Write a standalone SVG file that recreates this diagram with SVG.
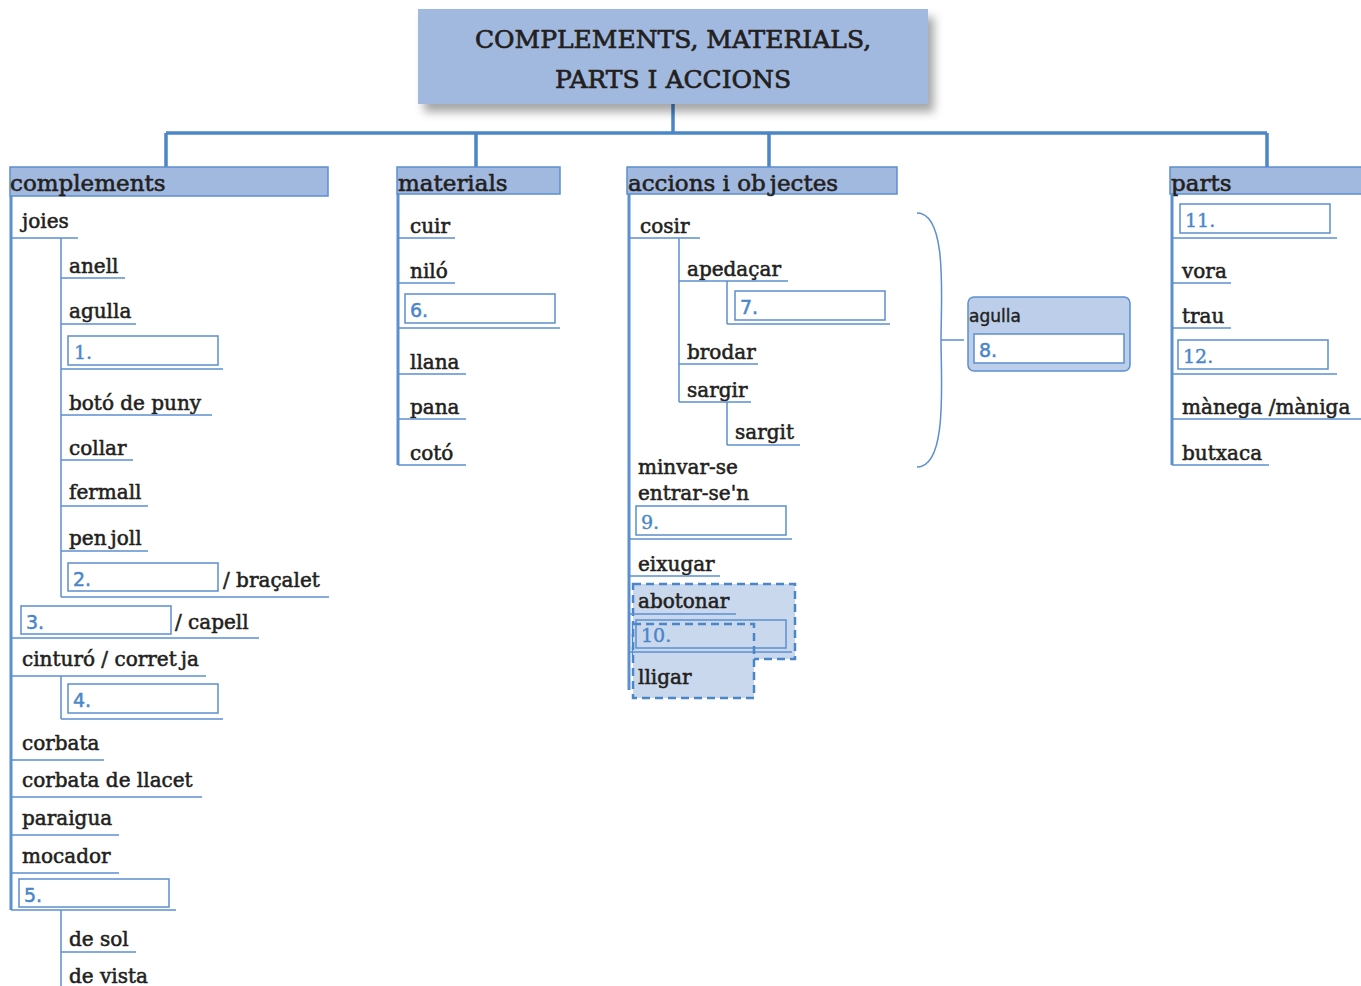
<svg xmlns="http://www.w3.org/2000/svg" width="1361" height="986" viewBox="0 0 1361 986">
<defs>
<filter id="sh" x="-10%" y="-20%" width="130%" height="160%">
<feDropShadow dx="6" dy="8" stdDeviation="5" flood-color="#000" flood-opacity="0.35"/>
</filter>
</defs>
<style>
.hd{fill:#a2b9df;stroke:#5b8fcf;stroke-width:1.5}
.ht{font-family:"DejaVu Serif",serif;font-size:23px;fill:#231f20;stroke:#231f20;stroke-width:0.6}
.t{font-family:"DejaVu Serif",serif;font-size:20px;fill:#231f20;stroke:#231f20;stroke-width:0.55}
.n{font-family:"DejaVu Sans",sans-serif;font-size:19px;fill:#4a86c8;stroke:#4a86c8;stroke-width:0.5}
.ns{font-family:"DejaVu Serif",serif;font-size:19px;fill:#4a86c8;stroke:#4a86c8;stroke-width:0.4}
.bx{fill:#fff;stroke:#5b8fcf;stroke-width:1.5}
.ln{stroke:#5b8fcf;stroke-width:1.5;fill:none}
.vl{stroke:#5b8fcf;stroke-width:3;fill:none}
.tr{stroke:#4a86c8;stroke-width:3.5;fill:none}
.dsh{fill:#cad8ed;stroke:#4a86c8;stroke-width:2.5;stroke-dasharray:8 5}
</style>
<g id="connectors">
<path class="tr" d="M673 100V133M166 133H1267M166 133V168M476 133V168M769 133V168M1267 133V168"/>
<path class="ln" d="M917 213C948 213 941 300 941 340C941 380 948 467 917 467M941 340H964"/>
</g>
<g id="title">
<rect x="418" y="9" width="510" height="95" fill="#a2b9df" filter="url(#sh)"/>
<text x="673" y="48" text-anchor="middle" font-family="DejaVu Serif,serif" font-size="25" fill="#231f20" stroke="#231f20" stroke-width="0.7">COMPLEMENTS, MATERIALS,</text>
<text x="673" y="88" text-anchor="middle" font-family="DejaVu Serif,serif" font-size="25" fill="#231f20" stroke="#231f20" stroke-width="0.7">PARTS I ACCIONS</text>
</g>
<g id="complements">
<rect class="hd" x="10" y="167" width="318" height="29"/>
<text class="ht" x="10" y="191">complements</text>
<path class="vl" d="M11 196V910"/>
<path class="ln" d="M61 238V597M61 676V719M61 910V986"/>
<text class="t" x="22" y="228">joies</text><path class="ln" d="M11 238H78"/>
<text class="t" x="69" y="273">anell</text><path class="ln" d="M61 278H125"/>
<text class="t" x="69" y="318">agulla</text><path class="ln" d="M61 324H136"/>
<rect class="bx" x="68" y="336" width="150" height="29"/><text class="ns" x="74" y="359">1.</text><path class="ln" d="M61 369H223"/>
<text class="t" x="69" y="410">botó de puny</text><path class="ln" d="M61 415H212"/>
<text class="t" x="69" y="455">collar</text><path class="ln" d="M61 460H133"/>
<text class="t" x="69" y="499">fermall</text><path class="ln" d="M61 506H148"/>
<text class="t" x="69" y="545">pen<tspan dx="4">joll</tspan></text><path class="ln" d="M61 551H148"/>
<rect class="bx" x="68" y="563" width="150" height="28"/><text class="n" x="73" y="586">2.</text>
<text class="t" x="223" y="587">/ braçalet</text><path class="ln" d="M61 597H329"/>
<rect class="bx" x="21" y="606" width="150" height="28"/><text class="n" x="26" y="629">3.</text>
<text class="t" x="175" y="629">/ capell</text><path class="ln" d="M11 638H259"/>
<text class="t" x="22" y="666">cinturó / corret<tspan dx="4">ja</tspan></text><path class="ln" d="M11 676H206"/>
<rect class="bx" x="68" y="684" width="150" height="29"/><text class="n" x="73" y="707">4.</text><path class="ln" d="M61 719H223"/>
<text class="t" x="22" y="750">corbata</text><path class="ln" d="M11 760H104"/>
<text class="t" x="22" y="787">corbata de llacet</text><path class="ln" d="M11 797H202"/>
<text class="t" x="22" y="825">paraigua</text><path class="ln" d="M11 835H119"/>
<text class="t" x="22" y="863">mocador</text><path class="ln" d="M11 873H119"/>
<rect class="bx" x="19" y="879" width="150" height="28"/><text class="n" x="24" y="902">5.</text><path class="ln" d="M11 910H176"/>
<text class="t" x="69" y="946">de sol</text><path class="ln" d="M61 952H136"/>
<text class="t" x="69" y="983">de vista</text>
</g>
<g id="materials">
<rect class="hd" x="397" y="167" width="163" height="27"/>
<text class="ht" x="398" y="191">materials</text>
<path class="vl" d="M398 194V465"/>
<text class="t" x="410" y="233">cuir</text><path class="ln" d="M398 238H455"/>
<text class="t" x="410" y="278">niló</text><path class="ln" d="M398 283H455"/>
<rect class="bx" x="405" y="294" width="150" height="29"/><text class="n" x="410" y="317">6.</text><path class="ln" d="M398 328H560"/>
<text class="t" x="410" y="369">llana</text><path class="ln" d="M398 374H466"/>
<text class="t" x="410" y="414">pana</text><path class="ln" d="M398 419H466"/>
<text class="t" x="410" y="460">cotó</text><path class="ln" d="M398 465H466"/>
</g>
<g id="accions">
<rect class="hd" x="627" y="167" width="270" height="27"/>
<text class="ht" x="628" y="191">accions i ob<tspan dx="4">jectes</tspan></text>
<rect class="dsh" x="633" y="584" width="162" height="75"/>
<rect x="633" y="624" width="121" height="74" fill="#cad8ed"/>
<path class="vl" d="M629 194V690"/>
<text class="t" x="640" y="233">cosir</text><path class="ln" d="M629 238H700"/>
<path class="ln" d="M679 238V402M727 281V324M727 402V445"/>
<text class="t" x="687" y="276">apedaçar</text><path class="ln" d="M679 281H788"/>
<rect class="bx" x="735" y="291" width="150" height="29"/><text class="n" x="740" y="314">7.</text><path class="ln" d="M727 324H890"/>
<text class="t" x="687" y="359">brodar</text><path class="ln" d="M679 364H758"/>
<text class="t" x="687" y="397">sargir</text><path class="ln" d="M679 402H751"/>
<text class="t" x="735" y="439">sargit</text><path class="ln" d="M727 445H800"/>
<text class="t" x="638" y="474">minvar-se</text>
<text class="t" x="638" y="500">entrar-se'n</text>
<rect class="bx" x="636" y="506" width="150" height="29"/><text class="ns" x="641" y="529">9.</text><path class="ln" d="M629 539H792"/>
<text class="t" x="638" y="571">eixugar</text><path class="ln" d="M629 576H720"/>
<text class="t" x="638" y="608">abotonar</text><path class="ln" d="M629 614H736"/>
<rect x="636" y="620" width="150" height="28" fill="none" stroke="#5b8fcf" stroke-width="1.5"/><text class="ns" x="641" y="642">10.</text><path class="ln" d="M629 652H792"/>
<rect x="633" y="624" width="121" height="74" fill="none" stroke="#4a86c8" stroke-width="2.5" stroke-dasharray="8 5"/>
<text class="t" x="638" y="684">lligar</text>
</g>
<g id="agulla">
<rect x="968" y="297" width="162" height="74" rx="6" fill="#bcceea" stroke="#5b8fcf" stroke-width="1.5"/>
<text x="969" y="322" font-family="DejaVu Sans,sans-serif" font-size="17" fill="#231f20" stroke="#231f20" stroke-width="0.4">agulla</text>
<rect class="bx" x="974" y="334" width="150" height="29"/><text class="n" x="979" y="357">8.</text>
</g>
<g id="parts">
<rect class="hd" x="1170" y="167" width="195" height="27"/>
<text class="ht" x="1171" y="191">parts</text>
<path class="vl" d="M1172 194V465"/>
<rect class="bx" x="1180" y="204" width="150" height="29"/><text class="ns" x="1185" y="227">11.</text><path class="ln" d="M1172 238H1337"/>
<text class="t" x="1182" y="278">vora</text><path class="ln" d="M1172 283H1231"/>
<text class="t" x="1182" y="323">trau</text><path class="ln" d="M1172 328H1231"/>
<rect class="bx" x="1178" y="340" width="150" height="29"/><text class="ns" x="1183" y="363">12.</text><path class="ln" d="M1172 374H1337"/>
<text class="t" x="1182" y="414">mànega /màniga</text><path class="ln" d="M1172 419H1361"/>
<text class="t" x="1182" y="460">butxaca</text><path class="ln" d="M1172 465H1269"/>
</g>
</svg>
